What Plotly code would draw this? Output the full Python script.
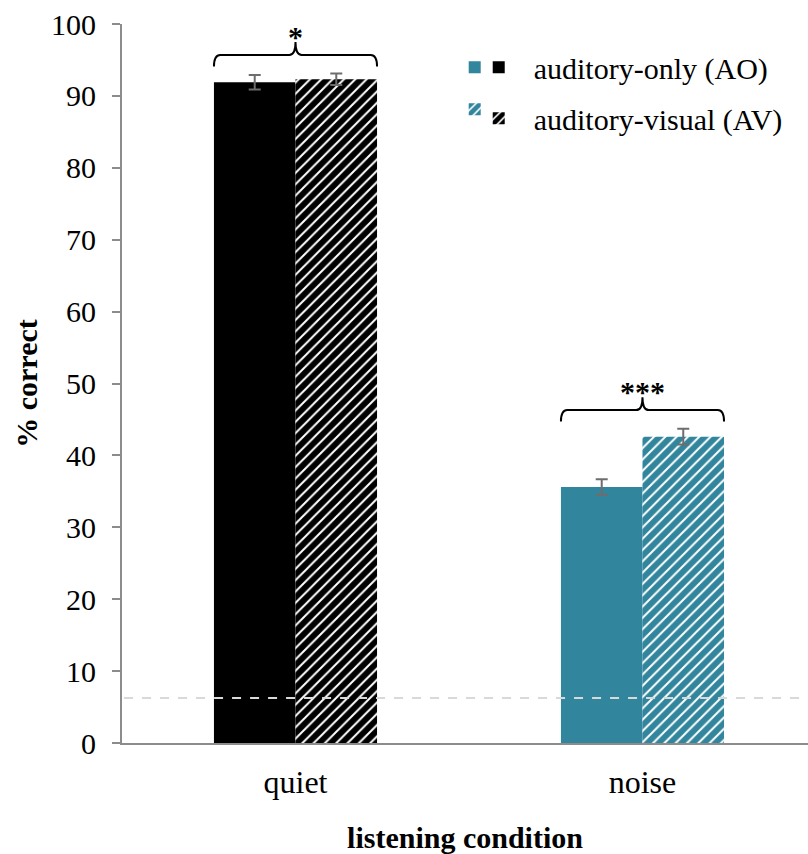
import plotly.graph_objects as go

# ---- data ----
conditions = ["quiet", "noise"]
modalities = ["auditory-only (AO)", "auditory-visual (AV)"]
ao_values = [91.9, 35.6]
ao_errors = [1.0, 1.1]
av_values = [92.3, 42.6]
av_errors = [0.8, 1.1]
significance = ["*", "***"]
chance_level = 6.25
y_ticks = [0, 10, 20, 30, 40, 50, 60, 70, 80, 90, 100]

# ---- style ----
FONT = "Liberation Serif, Times New Roman, serif"
cond_colors = {"quiet": "#000000", "noise": "#31859C"}
AXIS_GREY = "#8c8c8c"
ERR_GREY = "#6d6d6d"
BAR_W = 0.235
FS = 30

fig = go.Figure()

def add_bar(ci, cond, val, err, striped, legend, name):
    color = cond_colors[cond]
    marker = dict(color=color, line=dict(width=0))
    if striped:
        marker["pattern"] = dict(shape="/", fgcolor=color, bgcolor="white",
                                 size=8, solidity=0.75, fillmode="replace")
    fig.add_trace(go.Bar(
        x=[ci], y=[val], width=BAR_W, offset=0 if striped else -BAR_W,
        marker=marker,
        error_y=dict(type="data", array=[err], color=ERR_GREY, thickness=2, width=6),
        name=name, legend=legend, legendgroup=f"{legend}-{name}-{cond}",
        showlegend=True, hoverinfo="skip",
    ))

# legend 1: teal swatches (no text); legend 2: black swatches with labels
order = [(1, "noise", "legend", [" ", " "]),
         (0, "quiet", "legend2", ["\u00a0\u00a0" + m for m in modalities])]
for ci, cond, lg, names in order:
    add_bar(ci, cond, ao_values[ci], ao_errors[ci], False, lg, names[0])
    add_bar(ci, cond, av_values[ci], av_errors[ci], True, lg, names[1])

# chance level dashed line
fig.add_shape(type="line", xref="paper", x0=0.003, x1=1, yref="y",
              y0=chance_level, y1=chance_level,
              line=dict(color="#d9d9d9", width=2, dash="dash"), layer="above")

# braces + significance stars
dx = 0.018
for ci, cond in enumerate(conditions):
    top = max(ao_values[ci] + ao_errors[ci], av_values[ci] + av_errors[ci])
    yb, yh, yp = top + 1.0, top + 2.6, top + 4.4
    x0, x1, xc = ci - BAR_W, ci + BAR_W, ci
    path = (f"M {x0},{yb} Q {x0},{yh} {x0+dx},{yh} L {xc-dx},{yh} "
            f"Q {xc},{yh} {xc},{yp} Q {xc},{yh} {xc+dx},{yh} "
            f"L {x1-dx},{yh} Q {x1},{yh} {x1},{yb}")
    fig.add_shape(type="path", path=path, xref="x", yref="y",
                  line=dict(color="black", width=2))
    fig.add_annotation(x=xc, y=yp, text=f"<b>{significance[ci]}</b>", showarrow=False,
                       xref="x", yref="y", yanchor="bottom", yshift=-13,
                       font=dict(family=FONT, size=FS, color="black"))

legend_common = dict(font=dict(family=FONT, size=FS, color="black"),
                     bgcolor="rgba(0,0,0,0)", borderwidth=0,
                     tracegroupgap=9, xanchor="left", yanchor="top",
                     traceorder="grouped", itemclick=False)

fig.update_layout(
    width=808, height=854,
    margin=dict(l=122, r=0, t=24, b=111, autoexpand=False),
    plot_bgcolor="white", paper_bgcolor="white",
    barmode="overlay",
    font=dict(family=FONT, size=FS, color="black"),
    xaxis=dict(range=[-0.5, 1.477], tickvals=list(range(len(conditions))),
               ticktext=conditions, showgrid=False, zeroline=False,
               showline=True, linecolor=AXIS_GREY, linewidth=2, ticks="",
               ticklabelstandoff=10, automargin=False,
               tickfont=dict(family=FONT, size=32),
               title=dict(text="<b>listening condition</b>", standoff=44,
                          font=dict(family=FONT, size=FS))),
    yaxis=dict(range=[0, 100], tickvals=y_ticks, showgrid=False, zeroline=False,
               showline=True, linecolor=AXIS_GREY, linewidth=2,
               ticks="outside", ticklen=8, tickwidth=2, tickcolor=AXIS_GREY,
               ticklabelstandoff=10, automargin=False,
               title=dict(text="<b>% correct</b>", standoff=5,
                          font=dict(family=FONT, size=FS))),
    legend=dict(x=0.485, y=0.976, **legend_common),
    legend2=dict(x=0.520, y=0.976, **legend_common),
    showlegend=True,
    hovermode=False,
)

fig.write_html(
    "out.html",
    config={"displayModeBar": False},
    post_script="document.body.style.margin='0';document.body.style.overflow='hidden';",
)
